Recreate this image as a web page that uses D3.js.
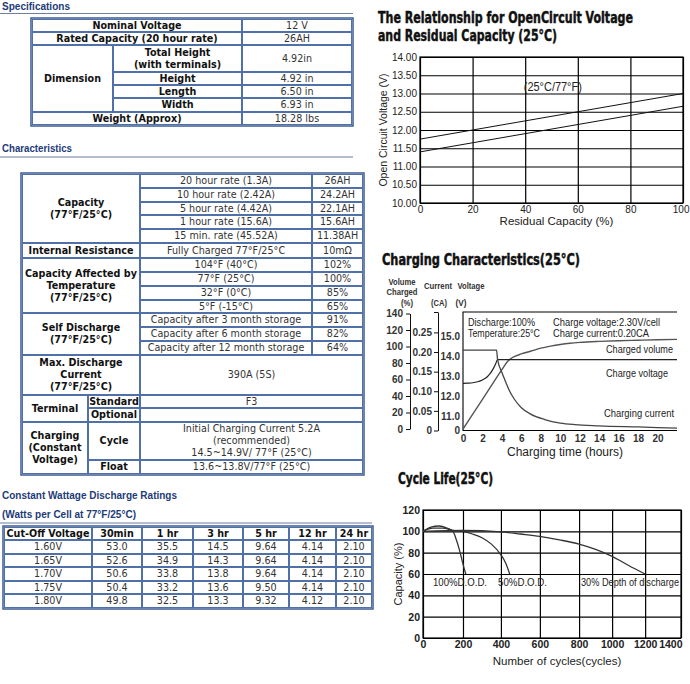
<!DOCTYPE html>
<html><head><meta charset="utf-8">
<script src="https://cdn.jsdelivr.net/npm/d3@7"></script>
<style>body{margin:0;background:#fff}svg{display:block}</style>
</head><body>
<svg id="c" width="690" height="684"></svg>
<script>
// ===================== DATA =====================
// Specifications table
const specNominalVoltage = "12 V";
const specRatedCapacity = "26AH";
const specDimensionLabels = [["Total Height","(with terminals)"],["Height"],["Length"],["Width"]];
const specDimensionValues = ["4.92in","4.92 in","6.50 in","6.93 in"];
const specWeight = "18.28 lbs";

// Characteristics table
const capacityRates = ["20 hour rate (1.3A)","10 hour rate (2.42A)","5 hour rate (4.42A)","1 hour rate (15.6A)","15 min. rate (45.52A)"];
const capacityValues = ["26AH","24.2AH","22.1AH","15.6AH","11.38AH"];
const tempLabels = ["104°F (40°C)","77°F (25°C)","32°F (0°C)","5°F (-15°C)"];
const tempValues = ["102%","100%","85%","65%"];
const selfDischargeLabels = ["Capacity after 3 month storage","Capacity after 6 month storage","Capacity after 12 month storage"];
const selfDischargeValues = ["91%","82%","64%"];

// Constant wattage discharge table
const cwHeaders = ["Cut-Off Voltage","30min","1 hr","3 hr","5 hr","12 hr","24 hr"];
const cwCutoff = ["1.60V","1.65V","1.70V","1.75V","1.80V"];
const cw30min = [53.0,52.6,50.6,50.4,49.8];
const cw1hr = [35.5,34.9,33.8,33.2,32.5];
const cw3hr = [14.5,14.3,13.8,13.6,13.3];
const cw5hr = [9.64,9.64,9.64,9.50,9.32];
const cw12hr = [4.14,4.14,4.14,4.14,4.12];
const cw24hr = [2.10,2.10,2.10,2.10,2.10];

// Open circuit voltage vs residual capacity
const ocvCapacity = [0,100];
const ocvUpper = [11.75,13.00];
const ocvLower = [11.40,12.65];
const ocvYTicks = [10,10.5,11,11.5,12,12.5,13,13.5,14];
const ocvXTicks = [0,20,40,60,80,100];

// Charging characteristics: [hours, value]
const chargedVolume = [[0,0],[1,18],[2,36],[3,54],[4,72],[4.6,82],[5,86],[6,91],[7,94.5],[8,98],[9,100.5],[10,102.5],[11,104],[12,105],[14,106.2],[16,107],[18,107.6],[20,108.2],[22,108.6]];
const chargeVoltage = [[0,12.65],[0.5,12.66],[1,12.68],[1.5,12.73],[2,12.82],[2.5,12.98],[2.8,13.15],[3.1,13.38],[3.35,13.62],[3.55,13.85],[22,13.85]];
const chargeCurrent = [[0,0.205],[3.45,0.205],[3.55,0.182],[4,0.148],[4.3,0.129],[4.8,0.100],[5.3,0.079],[6,0.058],[7,0.041],[8.4,0.028],[10,0.019],[11.5,0.015],[14,0.012],[18,0.009],[22,0.006]];
const chgTimeTicks = [0,2,4,6,8,10,12,14,16,18,20];
const volumeTicks = [0,20,40,60,80,100,120,140];
const currentTicks = [0,0.05,0.10,0.15,0.20,0.25];
const voltageTicks = [11,12,13,14,15];

// Cycle life: [cycles, capacity %]
const dod100 = [[0,100],[40,104],[80,105],[120,103],[150,100],[165,93],[180,84],[195,73],[205,66],[215,60]];
const dod50 = [[0,100],[50,103],[100,103],[150,101],[200,100],[250,97.5],[300,94],[350,88],[400,78],[425,70],[445,60]];
const dod30 = [[0,100],[200,100.8],[400,99.5],[500,97.5],[600,95.3],[700,92],[800,88],[900,83],[1000,76.5],[1100,68],[1200,60]];
const cycleXTicks = [0,200,400,600,800,1000,1200,1400];
const cycleYTicks = [0,20,40,60,80,100,120];

// ===================== STYLE / LAYOUT =====================
const TF = "'DejaVu Sans', Verdana, sans-serif";
const CF = "'Liberation Sans', Arial, Helvetica, sans-serif";
const TITLEF = "'DejaVu Sans Condensed','Liberation Sans Narrow','Arial Narrow','DejaVu Sans',sans-serif";
const HEAD_COLOR = "#1d3b78";
const CELL_STROKE = "#5070a8";
const OUTER_STROKE = "#3d5b95";
const VAL_COLOR = "#333";

const svg = d3.select("#c");

function heading(txt, x, y, len, size) {
  svg.append("text").attr("x", x).attr("y", y).text(txt)
    .attr("font-family", CF).attr("font-weight", "bold").attr("font-size", size || 10.5)
    .attr("fill", HEAD_COLOR).attr("textLength", len).attr("lengthAdjust", "spacingAndGlyphs");
}
function rule(x0, x1, y) {
  svg.append("line").attr("x1", x0).attr("x2", x1).attr("y1", y).attr("y2", y)
    .attr("stroke", "#6f7f9c").attr("stroke-width", 1.2);
}
function drawTable(cols, rows, cells) {
  const g = svg.append("g");
  g.append("rect").attr("x", cols[0] - 1).attr("y", rows[0] - 1)
    .attr("width", cols[cols.length - 1] - cols[0] + 2).attr("height", rows[rows.length - 1] - rows[0] + 2)
    .attr("fill", "none").attr("stroke", OUTER_STROKE).attr("stroke-width", 1.5);
  cells.forEach(c => {
    const x0 = cols[c.c[0]], x1 = cols[c.c[1]], y0 = rows[c.r[0]], y1 = rows[c.r[1]];
    g.append("rect").attr("x", x0 + 0.5).attr("y", y0 + 0.5).attr("width", x1 - x0 - 1).attr("height", y1 - y0 - 1)
      .attr("fill", "#fff").attr("stroke", CELL_STROKE).attr("stroke-width", 1);
    const n = c.t.length, lh = 12, cy = (y0 + y1) / 2;
    c.t.forEach((s, i) => {
      g.append("text").attr("x", (x0 + x1) / 2).attr("y", cy + (i - (n - 1) / 2) * lh).attr("dy", "0.36em")
        .attr("text-anchor", "middle").attr("font-family", TF).attr("font-size", 9.6)
        .attr("font-weight", c.b ? "bold" : "normal").attr("fill", c.b ? "#111" : VAL_COLOR).text(s);
    });
  });
}

// ===================== SPECIFICATIONS =====================
heading("Specifications", 2, 10, 68);
rule(0, 353, 13.5);
{
  const cols = [32, 113, 242, 352];
  const rows = [19, 32, 45, 72, 85, 98, 112, 125];
  const cells = [
    {r:[0,1], c:[0,2], t:["Nominal Voltage"], b:true}, {r:[0,1], c:[2,3], t:[specNominalVoltage]},
    {r:[1,2], c:[0,2], t:["Rated Capacity (20 hour rate)"], b:true}, {r:[1,2], c:[2,3], t:[specRatedCapacity]},
    {r:[2,6], c:[0,1], t:["Dimension"], b:true},
    {r:[6,7], c:[0,2], t:["Weight (Approx)"], b:true}, {r:[6,7], c:[2,3], t:[specWeight]}
  ];
  specDimensionLabels.forEach((l, i) => {
    cells.push({r:[2+i,3+i], c:[1,2], t:l, b:true});
    cells.push({r:[2+i,3+i], c:[2,3], t:[specDimensionValues[i]]});
  });
  drawTable(cols, rows, cells);
}

// ===================== CHARACTERISTICS =====================
heading("Characteristics", 2, 152, 70);
rule(0, 353, 157);
{
  const cols = [22, 88, 140, 312, 363];
  const rows = [174,188,202,215,229,243,258,272,286,300,313,327,341,355,395,408,422,460,474];
  const cells = [
    {r:[0,5], c:[0,2], t:["Capacity","(77°F/25°C)"], b:true},
    {r:[5,6], c:[0,2], t:["Internal Resistance"], b:true}, {r:[5,6], c:[2,3], t:["Fully Charged 77°F/25°C"]}, {r:[5,6], c:[3,4], t:["10mΩ"]},
    {r:[6,10], c:[0,2], t:["Capacity Affected by","Temperature","(77°F/25°C)"], b:true},
    {r:[10,13], c:[0,2], t:["Self Discharge","(77°F/25°C)"], b:true},
    {r:[13,14], c:[0,2], t:["Max. Discharge","Current","(77°F/25°C)"], b:true}, {r:[13,14], c:[2,4], t:["390A (5S)"]},
    {r:[14,16], c:[0,1], t:["Terminal"], b:true},
    {r:[14,15], c:[1,2], t:["Standard"], b:true}, {r:[14,15], c:[2,4], t:["F3"]},
    {r:[15,16], c:[1,2], t:["Optional"], b:true}, {r:[15,16], c:[2,4], t:[]},
    {r:[16,18], c:[0,1], t:["Charging","(Constant","Voltage)"], b:true},
    {r:[16,17], c:[1,2], t:["Cycle"], b:true}, {r:[16,17], c:[2,4], t:["Initial Charging Current 5.2A","(recommended)","14.5~14.9V/ 77°F (25°C)"]},
    {r:[17,18], c:[1,2], t:["Float"], b:true}, {r:[17,18], c:[2,4], t:["13.6~13.8V/77°F (25°C)"]}
  ];
  capacityRates.forEach((l, i) => { cells.push({r:[i,i+1], c:[2,3], t:[l]}); cells.push({r:[i,i+1], c:[3,4], t:[capacityValues[i]]}); });
  tempLabels.forEach((l, i) => { cells.push({r:[6+i,7+i], c:[2,3], t:[l]}); cells.push({r:[6+i,7+i], c:[3,4], t:[tempValues[i]]}); });
  selfDischargeLabels.forEach((l, i) => { cells.push({r:[10+i,11+i], c:[2,3], t:[l]}); cells.push({r:[10+i,11+i], c:[3,4], t:[selfDischargeValues[i]]}); });
  drawTable(cols, rows, cells);
}

// ===================== CONSTANT WATTAGE =====================
heading("Constant Wattage Discharge Ratings", 2, 499, 175);
heading("(Watts per Cell at 77°F/25°C)", 2, 517.5, 134);
rule(0, 372, 523);
{
  const cols = [4, 92, 142, 193, 243, 289, 336, 372];
  const rows = [527, 540, 554, 567, 581, 594, 608];
  const cells = [];
  cwHeaders.forEach((h, j) => cells.push({r:[0,1], c:[j,j+1], t:[h], b:true}));
  const f1 = d3.format(".1f"), f2 = d3.format(".2f");
  const seriesCols = [cw30min.map(f1), cw1hr.map(f1), cw3hr.map(f1), cw5hr.map(f2), cw12hr.map(f2), cw24hr.map(f2)];
  cwCutoff.forEach((v, i) => {
    cells.push({r:[i+1,i+2], c:[0,1], t:[v]});
    seriesCols.forEach((s, j) => cells.push({r:[i+1,i+2], c:[j+1,j+2], t:[s[i]]}));
  });
  drawTable(cols, rows, cells);
}

// ===================== CHART TITLES =====================
function chartTitle(txt, x, y, len) {
  svg.append("text").attr("x", x).attr("y", y).text(txt)
    .attr("font-family", TITLEF).attr("font-weight", "bold").attr("font-size", 15)
    .attr("fill", "#111").attr("stroke", "#111").attr("stroke-width", 0.45)
    .attr("textLength", len).attr("lengthAdjust", "spacingAndGlyphs");
}
chartTitle("The Relationship for OpenCircuit Voltage", 378, 22.5, 255);
chartTitle("and Residual Capacity (25°C)", 378, 40.5, 179);
chartTitle("Charging Characteristics(25°C)", 382, 265, 198);
chartTitle("Cycle Life(25°C)", 398, 483.5, 95);

function styleTicks(g, size, weight) {
  g.selectAll("text").attr("font-family", CF).attr("font-size", size).attr("fill", "#111").attr("font-weight", weight || "normal");
}
function narrowText(t, xx, yy, len, size, anchor) {
  return svg.append("text").attr("x", xx).attr("y", yy).attr("text-anchor", anchor || "start")
    .attr("font-family", CF).attr("font-size", size).attr("fill", "#222")
    .attr("textLength", len).attr("lengthAdjust", "spacingAndGlyphs").text(t);
}

// ===================== OCV CHART =====================
{
  const L = 420, R = 683, T = 57, B = 203;
  const x = d3.scaleLinear().domain([0, 100]).range([L, R]);
  const y = d3.scaleLinear().domain([10, 14]).range([B, T]);
  const gy = svg.append("g").attr("transform", `translate(${L},0)`)
    .call(d3.axisLeft(y).tickValues(ocvYTicks).tickFormat(d3.format(".2f")).tickSizeInner(-(R - L)).tickSizeOuter(0).tickPadding(3));
  const gx = svg.append("g").attr("transform", `translate(0,${B})`)
    .call(d3.axisBottom(x).tickValues(ocvXTicks).tickSizeInner(-(B - T)).tickSizeOuter(0).tickPadding(3));
  [gx, gy].forEach(g => { g.select(".domain").remove(); g.selectAll("line").attr("stroke", "#000").attr("stroke-width", 1.2); styleTicks(g, 10); g.selectAll("text").attr("fill", "#222"); });
  gx.selectAll(".tick").filter(d => d === 100).select("text").attr("text-anchor", "end").attr("dx", 6);
  svg.append("rect").attr("x", L).attr("y", T).attr("width", R - L).attr("height", B - T).attr("fill", "none").attr("stroke", "#000").attr("stroke-width", 1.2);
  const line = d3.line().x((d, i) => x(ocvCapacity[i])).y(d => y(d));
  [ocvUpper, ocvLower].forEach(s => svg.append("path").attr("d", line(s)).attr("fill", "none").attr("stroke", "#111").attr("stroke-width", 1));
  narrowText("(25°C/77°F)", x(50.5), y(13.5) + 15.5, 58, 12, "middle");
  svg.append("text").attr("transform", `translate(387,${(T + B) / 2}) rotate(-90)`).attr("text-anchor", "middle")
    .attr("font-family", CF).attr("font-size", 10.5).attr("fill", "#222").text("Open Circuit Voltage (V)");
  svg.append("text").attr("x", (L + R) / 2 + 5).attr("y", 225).attr("text-anchor", "middle")
    .attr("font-family", CF).attr("font-size", 11.5).attr("fill", "#222").text("Residual Capacity (%)");
}

// ===================== CHARGING CHART =====================
{
  const L = 463, R = 677, T = 312, B = 430.5;
  const x = d3.scaleLinear().domain([0, 22]).range([L, R]);
  const yV = d3.scaleLinear().domain([10.27, 16.25]).range([B, T]);
  const yI = d3.scaleLinear().domain([0, 0.302]).range([B, T]);
  const yP = d3.scaleLinear().domain([0, 140]).range([429, 313.5]);

  svg.append("path").attr("d", `M${R},${T}H${L}V${B}H${R}`).attr("fill", "none").attr("stroke", "#000").attr("stroke-width", 1.1);

  const gx = svg.append("g").attr("transform", `translate(0,${B})`)
    .call(d3.axisBottom(x).tickValues(chgTimeTicks).tickSize(0).tickPadding(4));
  gx.select(".domain").remove(); styleTicks(gx, 10, "bold");
  gx.selectAll("text").attr("fill", "#333");

  const gv = svg.append("g").attr("transform", `translate(${L},0)`)
    .call(d3.axisLeft(yV).tickValues([10.27].concat(voltageTicks)).tickFormat(v => v < 11 ? "0" : d3.format(".1f")(v)).tickSize(0).tickPadding(3));
  gv.select(".domain").remove(); styleTicks(gv, 10, "bold"); gv.selectAll("text").attr("fill", "#333");

  const gi = svg.append("g").attr("transform", `translate(438,0)`)
    .call(d3.axisLeft(yI).tickValues(currentTicks.concat([0.302])).tickFormat(v => v === 0 ? "0" : (v > 0.3 ? "" : d3.format(".2f")(v))).tickSize(4).tickSizeOuter(0).tickPadding(2));
  gi.select(".domain").attr("stroke", "#111"); gi.selectAll("line").attr("stroke", "#111");
  styleTicks(gi, 10, "bold"); gi.selectAll("text").attr("fill", "#333");

  const gp = svg.append("g").attr("transform", `translate(410,0)`)
    .call(d3.axisLeft(yP).tickValues(volumeTicks).tickSize(4).tickSizeOuter(0).tickPadding(3));
  gp.select(".domain").attr("stroke", "#111"); gp.selectAll("line").attr("stroke", "#111");
  styleTicks(gp, 10, "bold"); gp.selectAll("text").attr("fill", "#333");

  const hdr = (t, xx, yy, len) => svg.append("text").attr("x", xx).attr("y", yy).attr("text-anchor", "middle")
    .attr("font-family", CF).attr("font-weight", "bold").attr("font-size", 8.5).attr("fill", "#333")
    .attr("textLength", len).attr("lengthAdjust", "spacingAndGlyphs").text(t);
  hdr("Volume", 402, 285, 27); hdr("Charged", 402, 295, 31); hdr("(%)", 407, 306, 12);
  hdr("Current", 438, 289, 28); hdr("(CA)", 439, 306, 16);
  hdr("Voltage", 471, 289, 27); hdr("(V)", 461, 306, 11);

  const ln = sc => d3.line().x(d => x(d[0])).y(d => sc(d[1])).curve(d3.curveMonotoneX);
  svg.append("path").attr("d", ln(yP)(chargedVolume)).attr("fill", "none").attr("stroke", "#555").attr("stroke-width", 1.4);
  svg.append("path").attr("d", ln(yV)(chargeVoltage)).attr("fill", "none").attr("stroke", "#222").attr("stroke-width", 1.2);
  svg.append("path").attr("d", ln(yI)(chargeCurrent)).attr("fill", "none").attr("stroke", "#444").attr("stroke-width", 1.3);

  narrowText("Discharge:100%", 468, 325.5, 67, 10.5);
  narrowText("Temperature:25°C", 468, 337, 72, 10.5);
  narrowText("Charge voltage:2.30V/cell", 553, 325.5, 107, 10.5);
  narrowText("Charge current:0.20CA", 553, 337, 96, 10.5);
  narrowText("Charged volume", 673, 353, 67, 10.5, "end");
  narrowText("Charge voltage", 668, 376.5, 62, 10.5, "end");
  narrowText("Charging current", 674, 416.5, 70, 10.5, "end");
  svg.append("text").attr("x", 565).attr("y", 455.5).attr("text-anchor", "middle")
    .attr("font-family", CF).attr("font-size", 12).attr("fill", "#222").text("Charging time (hours)");
}

// ===================== CYCLE LIFE CHART =====================
{
  const L = 423, R = 681, T = 510, B = 638;
  const gridFrac = [0, 0.155, 0.302, 0.453, 0.605, 0.733, 0.861, 1];
  const x = d3.scaleLinear().domain(cycleXTicks).range(gridFrac.map(f => L + f * (R - L)));
  const y = d3.scaleLinear().domain([0, 120]).range([B, T]);
  const gy = svg.append("g").attr("transform", `translate(${L},0)`)
    .call(d3.axisLeft(y).tickValues(cycleYTicks).tickSizeInner(-(R - L)).tickSizeOuter(0).tickPadding(3));
  const gx = svg.append("g").attr("transform", `translate(0,${B})`)
    .call(d3.axisBottom(x).tickValues(cycleXTicks).tickFormat(d3.format("d")).tickSizeInner(-(B - T)).tickSizeOuter(0).tickPadding(3));
  [gx, gy].forEach(g => { g.select(".domain").remove(); g.selectAll("line").attr("stroke", "#000").attr("stroke-width", 1.2); styleTicks(g, 10.5, "bold"); g.selectAll("text").attr("fill", "#222"); });
  gx.selectAll(".tick").filter(d => d === 1400).select("text").attr("text-anchor", "end").attr("dx", 1);
  svg.append("rect").attr("x", L).attr("y", T).attr("width", R - L).attr("height", B - T).attr("fill", "none").attr("stroke", "#000").attr("stroke-width", 1.2);
  const ln = d3.line().x(d => x(d[0])).y(d => y(d[1])).curve(d3.curveMonotoneX);
  [dod30, dod50, dod100].forEach(s => svg.append("path").attr("d", ln(s)).attr("fill", "none").attr("stroke", "#333").attr("stroke-width", 1.3));
  narrowText("100%D.O.D.", 433, 585.5, 54, 11);
  narrowText("50%D.O.D.", 498, 585.5, 49, 11);
  narrowText("30% Depth of discharge", 581, 585.5, 98, 11);
  svg.append("text").attr("transform", `translate(402,${(T + B) / 2}) rotate(-90)`).attr("text-anchor", "middle")
    .attr("font-family", CF).attr("font-size", 11).attr("fill", "#222").text("Capacity (%)");
  svg.append("text").attr("x", 557).attr("y", 665).attr("text-anchor", "middle")
    .attr("font-family", CF).attr("font-size", 11.5).attr("fill", "#222").text("Number of cycles(cycles)");
}
</script>
</body></html>
